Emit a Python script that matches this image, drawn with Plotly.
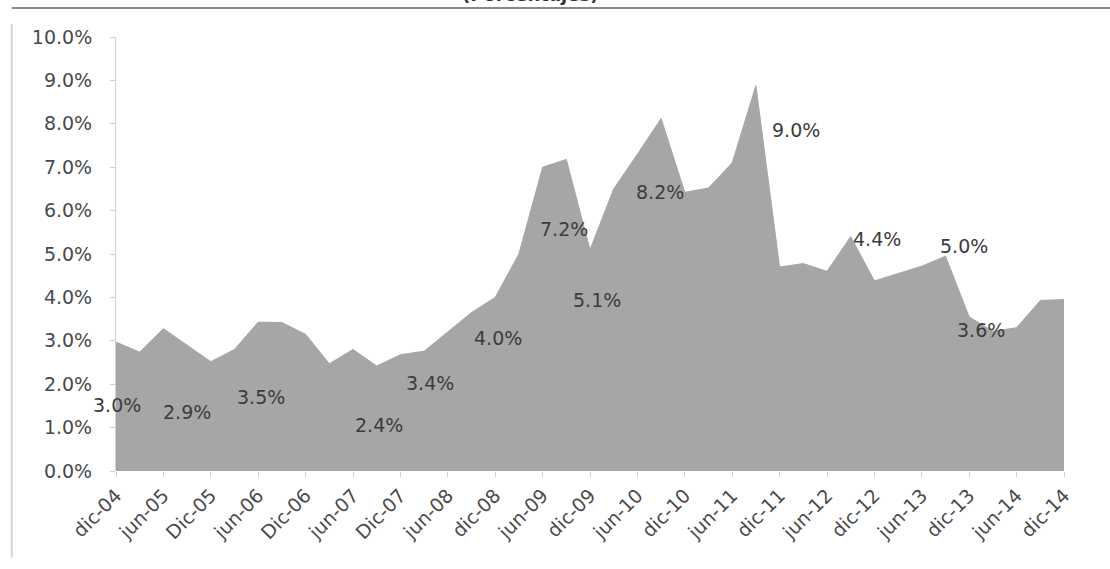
import plotly.graph_objects as go

# quarterly series, Dec-2004 .. Dec-2014 (percent)
quarters = [
    "dic-04", "mar-05", "jun-05", "sep-05", "dic-05", "mar-06", "jun-06", "sep-06",
    "dic-06", "mar-07", "jun-07", "sep-07", "dic-07", "mar-08", "jun-08", "sep-08",
    "dic-08", "mar-09", "jun-09", "sep-09", "dic-09", "mar-10", "jun-10", "sep-10",
    "dic-10", "mar-11", "jun-11", "sep-11", "dic-11", "mar-12", "jun-12", "sep-12",
    "dic-12", "mar-13", "jun-13", "sep-13", "dic-13", "mar-14", "jun-14", "sep-14",
    "dic-14",
]
values = [
    2.97, 2.74, 3.28, 2.90, 2.52, 2.80, 3.43, 3.42,
    3.15, 2.47, 2.80, 2.42, 2.68, 2.76, 3.20, 3.65,
    4.00, 5.00, 7.00, 7.18, 5.10, 6.50, 7.30, 8.12,
    6.42, 6.52, 7.10, 8.88, 4.70, 4.78, 4.60, 5.40,
    4.38, 4.55, 4.72, 4.95, 3.55, 3.22, 3.30, 3.93,
    3.95,
]

# semi-annual tick labels as printed
tick_cats = quarters[::2]
tick_text = [
    "dic-04", "jun-05", "Dic-05", "jun-06", "Dic-06", "jun-07", "Dic-07",
    "jun-08", "dic-08", "jun-09", "dic-09", "jun-10", "dic-10", "jun-11",
    "dic-11", "jun-12", "dic-12", "jun-13", "dic-13", "jun-14", "dic-14",
]

# hand-placed value labels (x in quarter index, y in percent)
label_text = ["3.0%", "2.9%", "3.5%", "2.4%", "3.4%", "4.0%", "7.2%",
              "5.1%", "8.2%", "9.0%", "4.4%", "5.0%", "3.6%", "4.1%"]
label_x = [0.05, 3.0, 6.1, 11.1, 13.25, 16.1, 18.9,
           20.3, 22.95, 28.7, 32.1, 35.8, 36.5, 40.6]
label_y = [1.52, 1.36, 1.70, 1.06, 2.03, 3.06, 5.58,
           3.94, 6.43, 7.86, 5.35, 5.18, 3.25, 4.45]

FONT = "DejaVu Sans"
GRAY = "#a6a6a6"

fig = go.Figure()
fig.add_trace(go.Scatter(
    x=quarters, y=values,
    mode="lines", fill="tozeroy",
    line=dict(color=GRAY, width=1),
    fillcolor=GRAY,
    hoverinfo="skip",
))

for t, x, y in zip(label_text, label_x, label_y):
    fig.add_annotation(x=x, y=y, text=t, showarrow=False,
                       font=dict(family=FONT, size=19, color="#3c3c3c"))

# heading of the scanned page, mostly cut off at the top edge
fig.add_annotation(xref="paper", yref="paper", x=0.437, y=1.068, yanchor="bottom",
                   text="<b>(Porcentajes)</b>", showarrow=False,
                   font=dict(family=FONT, size=18, color="#333"))

# page frame lines
fig.add_shape(type="line", xref="paper", yref="paper", x0=-0.11, x1=1.05, y0=1.067, y1=1.067,
              line=dict(color="#8a8a8a", width=2))
fig.add_shape(type="line", xref="paper", yref="paper", x0=-0.11, x1=-0.11, y0=1.03, y1=-0.2,
              line=dict(color="#d4d4d4", width=2))

fig.update_layout(
    width=1110, height=569,
    margin=dict(l=116, r=46, t=37, b=98),
    paper_bgcolor="white", plot_bgcolor="white",
    showlegend=False,
    font=dict(family=FONT, size=19, color="#4a4a4a"),
    xaxis=dict(
        type="category", range=[0, 40], automargin=False,
        tickmode="array", tickvals=tick_cats, ticktext=tick_text,
        tickangle=-45, ticks="outside", ticklen=5, tickcolor="#d0d0d0",
        showgrid=False, showline=False, zeroline=False,
        tickfont=dict(family=FONT, size=19, color="#4a4a4a"),
    ),
    yaxis=dict(
        range=[0, 10], dtick=1, tickformat=".1f", ticksuffix="%",
        ticks="outside", ticklen=5, tickcolor="#cfcfcf", automargin=False,
        showline=True, linecolor="#d0d0d0", linewidth=1,
        showgrid=False, zeroline=False, ticklabelstandoff=14,
        tickfont=dict(family=FONT, size=19, color="#4a4a4a"),
    ),
)

# drop the default page margin so the figure sits at the window's corner
fig.write_html("out.html", config={"displayModeBar": False},
               post_script="document.body.style.margin='0';")
